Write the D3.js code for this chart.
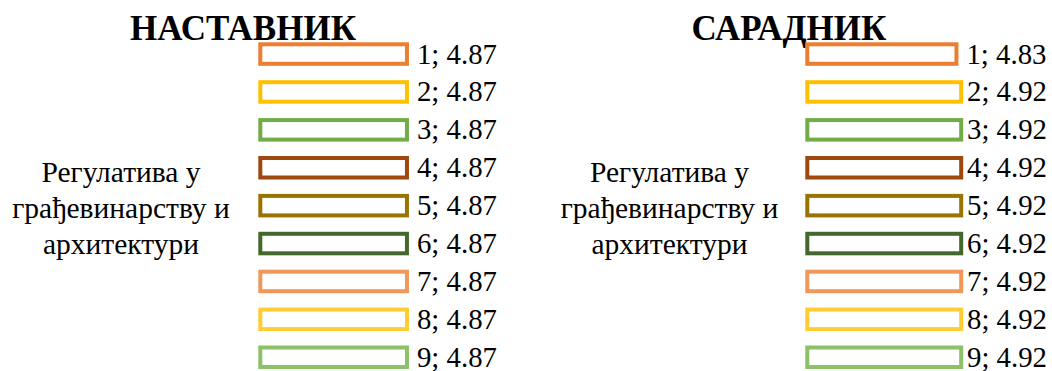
<!DOCTYPE html>
<html>
<head>
<meta charset="utf-8">
<script src="https://cdn.jsdelivr.net/npm/d3@7"></script>
<style>
  html, body { margin: 0; padding: 0; background: #fff; }
  svg { display: block; }
  text { font-family: 'Liberation Serif', 'Times New Roman', serif; }
</style>
</head>
<body>
<svg id="chart" width="1052" height="371"></svg>
<script>
// ---- data ----
const seriesNames = ["1", "2", "3", "4", "5", "6", "7", "8", "9"];
const categoryLines = ["Регулатива у", "грађевинарству и", "архитектури"];
const panelTitles = ["НАСТАВНИК", "САРАДНИК"];
const nastavnikValues = [4.87, 4.87, 4.87, 4.87, 4.87, 4.87, 4.87, 4.87, 4.87];
const saradnikValues = [4.83, 4.92, 4.92, 4.92, 4.92, 4.92, 4.92, 4.92, 4.92];
const seriesColors = ["#ED7D31", "#FFC000", "#70AD47", "#9E480E", "#997300",
                      "#43682B", "#F1975A", "#FFCD33", "#8CC168"];
const axisDomain = [2, 5];

// ---- layout ----
const FONT = "'Liberation Serif', 'Times New Roman', serif";
const svg = d3.select("#chart");
const panels = [
  { title: panelTitles[0], values: nastavnikValues, titleX: 243, catX: 121,
    xRange: [260.3, 260.3 + 3 * 51.1], labelLimit: 1047 },
  { title: panelTitles[1], values: saradnikValues, titleX: 789, catX: 669.5,
    xRange: [807.3, 807.3 + 3 * 52.7], labelLimit: 1047 }
];

const y = d3.scaleBand()
  .domain(seriesNames)
  .range([35.1, 376.2])
  .paddingInner(0.485)
  .paddingOuter(0.2425);

panels.forEach(p => {
  const g = svg.append("g");
  const x = d3.scaleLinear().domain(axisDomain).range(p.xRange);

  g.append("text")
    .attr("x", p.titleX).attr("y", 40)
    .attr("text-anchor", "middle")
    .attr("font-family", FONT)
    .attr("font-weight", "bold")
    .attr("font-size", 35)
    .attr("fill", "#000")
    .text(p.title);

  const cat = g.append("text")
    .attr("text-anchor", "middle")
    .attr("font-family", FONT)
    .attr("font-size", 29.5)
    .attr("fill", "#000");
  categoryLines.forEach((line, i) => {
    cat.append("tspan").attr("x", p.catX).attr("y", 182 + i * 36).text(line);
  });

  g.selectAll("rect.bar")
    .data(p.values)
    .join("rect")
    .attr("class", "bar")
    .attr("x", x(axisDomain[0]))
    .attr("y", (d, i) => y(seriesNames[i]))
    .attr("width", d => x(d) - x(axisDomain[0]))
    .attr("height", y.bandwidth())
    .attr("fill", "#fff")
    .attr("stroke", (d, i) => seriesColors[i])
    .attr("stroke-width", 4);

  const labels = g.selectAll("text.lbl")
    .data(p.values)
    .join("text")
    .attr("class", "lbl")
    .attr("font-family", FONT)
    .attr("font-size", 28.8)
    .attr("fill", "#000")
    .attr("y", (d, i) => y(seriesNames[i]) + y.bandwidth() / 2 + 9.5)
    .text((d, i) => `${seriesNames[i]}; ${d.toFixed(2)}`);

  labels.attr("x", function(d) {
    const w = this.getComputedTextLength();
    const natural = x(d) + 2 + 8;
    return Math.min(natural, p.labelLimit - w);
  });
});
</script>
</body>
</html>
